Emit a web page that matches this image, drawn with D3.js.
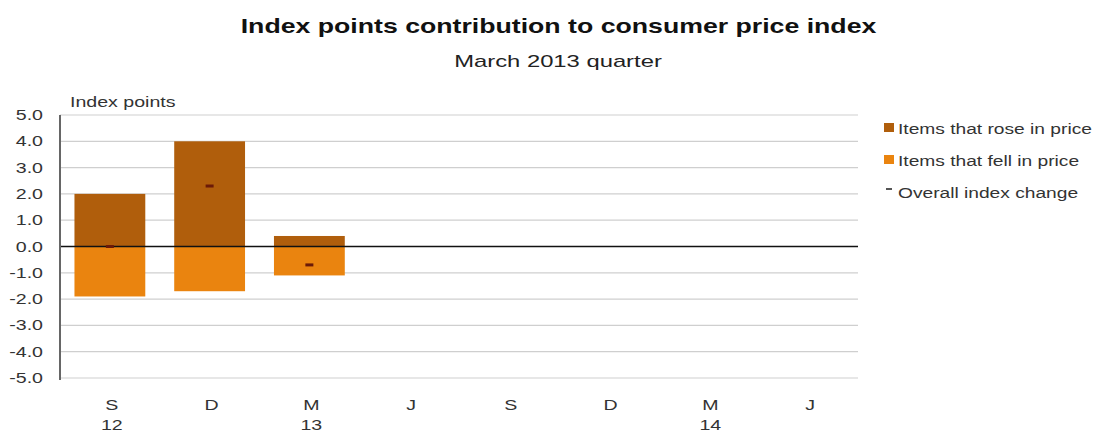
<!DOCTYPE html>
<html><head><meta charset="utf-8">
<script src="https://cdn.jsdelivr.net/npm/d3@7"></script>
<style>body{margin:0;background:#fff;}text{font-family:"Liberation Sans",Arial,sans-serif;}</style>
</head><body><svg id="c" width="1096" height="434"></svg>
<script>
const categories = ["S\n12","D","M\n13","J","S","D","M\n14","J"];
const rose = [2.0, 4.0, 0.4, null, null, null, null, null];
const fell = [-1.9, -1.7, -1.1, null, null, null, null, null];
const overall = [0.0, 2.3, -0.7, null, null, null, null, null];
const yTicks = [5,4,3,2,1,0,-1,-2,-3,-4,-5];
const seriesNames = ["Items that rose in price","Items that fell in price","Overall index change"];
const colors = {rose:"#B05E0C", fell:"#EA840F", overall:"#6B1A08"};

const svg = d3.select("#c");
const m = {left:60, right:858, top:115, bottom:378};
const x = d3.scaleBand().domain(d3.range(categories.length)).range([m.left, m.right]).paddingInner(0.29).paddingOuter(0.145);
const y = d3.scaleLinear().domain([-5,5]).range([m.bottom, m.top]);

function stext(g, tx, ty, str, size, sx, anchor, weight, fill){
  return g.append("text").attr("transform",`translate(${tx},${ty}) scale(${sx},1)`)
    .attr("text-anchor",anchor||"start").attr("font-size",size).attr("font-weight",weight||"normal")
    .attr("fill",fill||"#333").text(str);
}

stext(svg, 558.5, 33, "Index points contribution to consumer price index", 21, 1.27, "middle", "bold", "#111");
stext(svg, 558, 67, "March 2013 quarter", 17, 1.4, "middle", "normal", "#222");
stext(svg, 70, 107, "Index points", 14, 1.4, "start", "normal", "#333");

// grid
svg.append("g").selectAll("line").data(yTicks.filter(d=>d!==0)).join("line")
  .attr("x1",m.left).attr("x2",m.right).attr("y1",d=>y(d)).attr("y2",d=>y(d))
  .attr("stroke","#cfcfcf").attr("stroke-width",1.2);

// y axis labels (generated via d3 axis ticks, stretched horizontally)
const fmt = d3.format(".1f");
const yg = svg.append("g");
y.ticks(10).filter(t=>yTicks.includes(t)).forEach(t=>{
  stext(yg, 43, y(t)+5, fmt(t).replace("−","-"), 14, 1.4, "end", "normal", "#333");
});

// bars
svg.append("g").selectAll("rect").data(rose.map((v,i)=>({v,i})).filter(d=>d.v!=null)).join("rect")
  .attr("x",d=>x(d.i)).attr("width",x.bandwidth()).attr("y",d=>y(d.v)).attr("height",d=>y(0)-y(d.v)).attr("fill",colors.rose);
svg.append("g").selectAll("rect").data(fell.map((v,i)=>({v,i})).filter(d=>d.v!=null)).join("rect")
  .attr("x",d=>x(d.i)).attr("width",x.bandwidth()).attr("y",y(0)).attr("height",d=>y(d.v)-y(0)).attr("fill",colors.fell);

// zero line
svg.append("line").attr("x1",m.left).attr("x2",m.right).attr("y1",y(0)).attr("y2",y(0)).attr("stroke","#111").attr("stroke-width",1.5);
// y axis line
svg.append("line").attr("x1",m.left).attr("x2",m.left).attr("y1",m.top).attr("y2",m.bottom+2).attr("stroke","#666").attr("stroke-width",2);

// overall markers
svg.append("g").selectAll("rect").data(overall.map((v,i)=>({v,i})).filter(d=>d.v!=null)).join("rect")
  .attr("x",d=>x(d.i)+x.bandwidth()/2-4).attr("width",8).attr("y",d=>y(d.v)-1.5).attr("height",3).attr("fill",colors.overall);

// x labels
const xg = svg.append("g");
categories.forEach((c,i)=>{
  c.split("\n").forEach((t,j)=>{
    stext(xg, x(i)+x.bandwidth()/2+2, 410+j*20, t, 14.5, 1.35, "middle", "normal", "#333");
  });
});

// legend
const lg = svg.append("g");
const ly = [128,160,192];
lg.append("rect").attr("x",884).attr("y",ly[0]-5).attr("width",10).attr("height",9).attr("fill",colors.rose);
lg.append("rect").attr("x",884).attr("y",ly[1]-5).attr("width",10).attr("height",9).attr("fill",colors.fell);
lg.append("rect").attr("x",886).attr("y",ly[2]-4).attr("width",6).attr("height",2).attr("fill","#555");
seriesNames.forEach((s,i)=>{
  stext(lg, 898, ly[i]+6, s, 14, 1.37, "start", "normal", "#333");
});
</script></body></html>
